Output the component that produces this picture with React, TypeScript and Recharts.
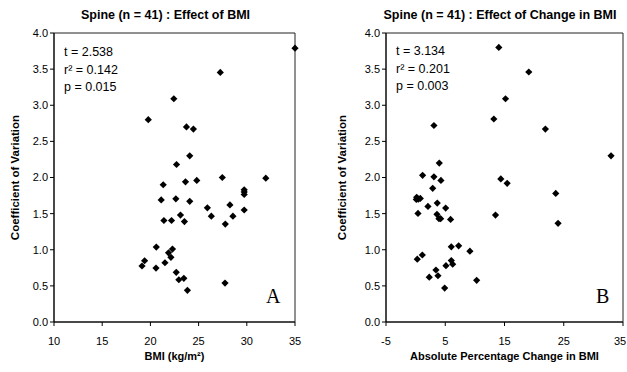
import { ScatterChart, Scatter, XAxis, YAxis, ReferenceArea } from "recharts"

// Panel A: BMI vs coefficient of variation
const bmiValues = [
  35.0, 27.25, 22.43, 19.78, 23.74, 24.46, 24.08, 22.71, 21.33, 23.64, 24.81, 27.46, 31.97,
  21.12, 22.64, 24.08, 29.73, 29.73, 29.73, 29.73, 25.91, 26.32, 28.25, 28.56, 27.77, 23.12,
  21.4, 22.19, 23.53, 20.61, 22.29, 21.88, 22.13, 19.4, 19.13, 20.58, 21.51, 22.68, 22.95,
  23.47, 23.84, 27.74,
]
const bmiCv = [
  3.79, 3.455, 3.09, 2.8, 2.7, 2.67, 2.3, 2.18, 1.9, 1.94, 1.96, 2.0, 1.99,
  1.69, 1.705, 1.67, 1.83, 1.8, 1.765, 1.55, 1.58, 1.465, 1.62, 1.465, 1.355, 1.48,
  1.405, 1.405, 1.39, 1.037, 1.01, 0.958, 0.895, 0.848, 0.775, 0.747, 0.82, 0.687, 0.585,
  0.604, 0.438, 0.539,
]

// Panel B: absolute % change in BMI vs coefficient of variation
const changeValues = [
  14.04, 19.1, 15.17, 13.2, 3.09, 21.9, 32.98, 3.99, 1.18, 3.09, 4.27, 14.38, 15.45, 2.88,
  23.65, 24.04, 13.48, 0.18, 0.45, 0.79, 0.12, 2.08, 3.65, 5.07, 0.4, 3.6, 3.94, 4.22, 5.9,
  6.02, 7.26, 9.16, 1.13, 0.28, 6.02, 6.25, 5.12, 3.43, 3.77, 2.3, 4.9, 10.3,
]
const changeCv = [
  3.8, 3.46, 3.09, 2.81, 2.72, 2.67, 2.3, 2.2, 2.03, 2.01, 1.96, 1.98, 1.92, 1.85,
  1.78, 1.366, 1.48, 1.725, 1.7, 1.71, 1.697, 1.6, 1.646, 1.577, 1.503, 1.49, 1.43, 1.43, 1.42,
  1.04, 1.055, 0.98, 0.927, 0.87, 0.85, 0.8, 0.78, 0.72, 0.64, 0.62, 0.47, 0.577,
]

const bmiTicks = [10, 15, 20, 25, 30, 35]
const changeTicks = [-5, 5, 15, 25, 35]
const cvTicks = [0, 0.5, 1, 1.5, 2, 2.5, 3, 3.5, 4]

const FONT = '"Liberation Sans", Arial, sans-serif'
const SERIF = '"Liberation Serif", "Times New Roman", serif'

const Diamond = (props: any) => {
  const { cx, cy } = props
  if (cx == null || cy == null) return null
  const r = 3.6
  return <path d={`M${cx},${cy - r}L${cx + r},${cy}L${cx},${cy + r}L${cx - r},${cy}Z`} fill="#000" />
}

interface PanelProps {
  width: number
  yAxisWidth: number
  rightMargin: number
  xs: number[]
  ys: number[]
  xDomain: [number, number]
  xTicks: number[]
  xLabel: string
  yLabelOffset: number
}

function Panel({ width, yAxisWidth, rightMargin, xs, ys, xDomain, xTicks, xLabel, yLabelOffset }: PanelProps) {
  const data = xs.map((x, i) => ({ x, y: ys[i] }))
  const tick = { fontSize: 11, fill: "#000", fontFamily: FONT }
  const labelStyle = { fontSize: 11, fontWeight: "bold", fontFamily: FONT, fill: "#000" }

  // keep the last x tick label inside the svg
  const renderXTick = (props: any) => {
    const { x, y, payload } = props
    const cx = Math.min(x, width - 7)
    return (
      <text x={cx} y={y} dy="0.71em" textAnchor="middle" style={tick}>
        {payload.value}
      </text>
    )
  }

  return (
    <ScatterChart width={width} height={372} margin={{ top: 33, right: rightMargin, bottom: 0, left: 0 }}>
      <XAxis
        type="number"
        dataKey="x"
        domain={xDomain}
        ticks={xTicks}
        interval={0}
        height={50}
        tick={renderXTick}
        tickSize={4}
        tickMargin={11}
        axisLine={{ stroke: "#000" }}
        tickLine={{ stroke: "#000" }}
        label={{ value: xLabel, position: "insideBottom", offset: 12, style: labelStyle }}
      />
      <YAxis
        type="number"
        dataKey="y"
        domain={[0, 4]}
        ticks={cvTicks}
        interval={0}
        width={yAxisWidth}
        tick={tick}
        tickSize={4}
        tickMargin={2}
        tickFormatter={(v: number) => v.toFixed(1)}
        axisLine={{ stroke: "#000" }}
        tickLine={{ stroke: "#000" }}
        label={{
          value: "Coefficient of Variation",
          angle: -90,
          position: "insideLeft",
          offset: yLabelOffset,
          style: { ...labelStyle, fontSize: 11.5, textAnchor: "middle" },
        }}
      />
      <ReferenceArea x1={xDomain[0]} x2={xDomain[1]} y1={0} y2={4} fill="none" stroke="#222" strokeWidth={1} />
      <Scatter data={data} fill="#000" shape={Diamond} isAnimationActive={false} />
    </ScatterChart>
  )
}

export default function App() {
  const statStyle = { fontSize: 12.5, fontFamily: FONT, fill: "#000" }
  const titleStyle = { fontSize: 12.5, fontWeight: "bold" as const, fontFamily: FONT, fill: "#000" }

  return (
    <div style={{ position: "absolute", left: 0, top: 0, width: 627, height: 372, background: "#fff", overflow: "hidden" }}>
      <div style={{ position: "absolute", left: 0, top: 0 }}>
        <Panel
          width={313}
          yAxisWidth={54}
          rightMargin={18}
          xs={bmiValues}
          ys={bmiCv}
          xDomain={[10, 35]}
          xTicks={bmiTicks}
          xLabel="BMI (kg/m²)"
          yLabelOffset={15}
        />
      </div>
      <div style={{ position: "absolute", left: 313, top: 0 }}>
        <Panel
          width={314}
          yAxisWidth={73}
          rightMargin={4}
          xs={changeValues}
          ys={changeCv}
          xDomain={[-5, 35]}
          xTicks={changeTicks}
          xLabel="Absolute Percentage Change in BMI"
          yLabelOffset={29}
        />
      </div>
      <svg width={627} height={372} style={{ position: "absolute", left: 0, top: 0, pointerEvents: "none" }}>
        <text x={165.5} y={19} textAnchor="middle" style={titleStyle}>Spine (n = 41) : Effect of BMI</text>
        <text x={500} y={19} textAnchor="middle" style={titleStyle}>Spine (n = 41) : Effect of Change in BMI</text>

        <text x={64} y={56} style={statStyle}>t = 2.538</text>
        <text x={64} y={74} style={statStyle}>r² = 0.142</text>
        <text x={64} y={91} style={statStyle}>p = 0.015</text>

        <text x={396} y={55} style={statStyle}>t = 3.134</text>
        <text x={396} y={73} style={statStyle}>r² = 0.201</text>
        <text x={396} y={90} style={statStyle}>p = 0.003</text>

        <text x={266} y={303} style={{ fontSize: 20, fontFamily: SERIF, fill: "#000" }}>A</text>
        <text x={596} y={303} style={{ fontSize: 20, fontFamily: SERIF, fill: "#000" }}>B</text>
      </svg>
    </div>
  )
}
